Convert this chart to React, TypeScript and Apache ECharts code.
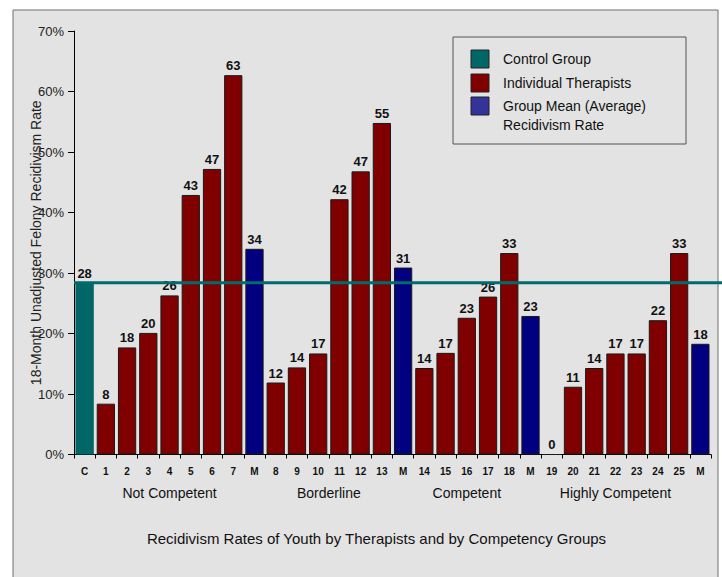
import React, { useEffect, useRef } from "react";
import * as echarts from "echarts";

const categories = [
  "C", "1", "2", "3", "4", "5", "6", "7", "M",
  "8", "9", "10", "11", "12", "13", "M",
  "14", "15", "16", "17", "18", "M",
  "19", "20", "21", "22", "23", "24", "25", "M",
];
const rates = [
  28.4, 8.4, 17.7, 20.1, 26.3, 42.9, 47.2, 62.7, 34.0,
  11.9, 14.4, 16.7, 42.2, 46.8, 54.8, 30.9,
  14.3, 16.8, 22.6, 26.1, 33.3, 22.9,
  0, 11.2, 14.3, 16.7, 16.7, 22.2, 33.3, 18.3,
];
const controlRate = 28.4;
const groupNames = ["Not Competent", "Borderline", "Competent", "Highly Competent"];
const legendNames = ["Control Group", "Individual Therapists", "Group Mean (Average)\nRecidivism Rate"];
const yTicks = [0, 10, 20, 30, 40, 50, 60, 70];
const yAxisTitle = "18-Month Unadjusted Felony Recidivism Rate";
const chartTitle = "Recidivism Rates of Youth by Therapists and by Competency Groups";

const FONT = "'Liberation Sans', Arial, Helvetica, sans-serif";
const COLORS = { control: "#006666", therapist: "#800000", mean: "#000080" };
const LEGEND_COLORS = ["#006666", "#800000", "#333399"];

function kindOf(cat: string) {
  if (cat === "C") return "control";
  if (cat === "M") return "mean";
  return "therapist";
}

export default function App() {
  const ref = useRef<HTMLDivElement>(null);
  useEffect(() => {
    if (!ref.current) return;
    const chart = echarts.init(ref.current, null, { renderer: "svg" });
    chart.setOption({
      animation: false,
      backgroundColor: "#ffffff",
      grid: { left: 74, right: 11, top: 31, bottom: 122.5, containLabel: false },
      xAxis: {
        type: "category",
        data: categories,
        boundaryGap: true,
        axisLine: { lineStyle: { color: "#000", width: 1 } },
        axisTick: { show: true, length: 4, lineStyle: { color: "#000" }, interval: 0 },
        axisLabel: {
          interval: 0,
          margin: 12,
          fontFamily: FONT,
          fontSize: 10,
          fontWeight: "bold",
          color: "#111",
        },
      },
      yAxis: {
        type: "value",
        min: yTicks[0],
        max: yTicks[yTicks.length - 1],
        interval: 10,
        name: yAxisTitle,
        nameLocation: "middle",
        nameGap: 30,
        nameMoveOverlap: false,
        nameTextStyle: { fontFamily: FONT, fontSize: 14, color: "#222" },
        axisLine: { show: true, lineStyle: { color: "#000", width: 1 } },
        axisTick: { show: true, length: 6, lineStyle: { color: "#000" } },
        axisLabel: {
          formatter: "{value}%",
          margin: 10,
          fontFamily: FONT,
          fontSize: 13,
          color: "#222",
        },
        splitLine: { show: false },
      },
      series: [
        {
          type: "bar",
          data: rates.map((v, i) => {
            const k = kindOf(categories[i]);
            return {
              value: v,
              itemStyle: {
                color: (COLORS as any)[k],
                borderColor: k === "control" ? "#006666" : "#1a1a1a",
                borderWidth: 1,
              },
            };
          }),
          barCategoryGap: "14%",
          label: {
            show: true,
            position: "top",
            distance: 3,
            formatter: (p: any) => String(Math.round(p.value)),
            fontFamily: FONT,
            fontSize: 13,
            fontWeight: "bold",
            color: "#111",
          },
        },
      ],
    });

    // derive positions from the chart's scales
    const c0 = chart.convertToPixel({ xAxisIndex: 0 }, 0) as number;
    const c1 = chart.convertToPixel({ xAxisIndex: 0 }, 1) as number;
    const band = c1 - c0;
    const leftX = c0 - band / 2;
    const lineY = chart.convertToPixel({ yAxisIndex: 0 }, controlRate) as number;
    const y0 = chart.convertToPixel({ yAxisIndex: 0 }, yTicks[0]) as number;
    const yTop = chart.convertToPixel({ yAxisIndex: 0 }, yTicks[yTicks.length - 1]) as number;

    // group spans: runs of therapists between markers
    const spans: [number, number][] = [];
    let start = -1;
    categories.forEach((c, i) => {
      const k = kindOf(c);
      if (k === "therapist") {
        if (start < 0) start = i;
      } else if (start >= 0) {
        spans.push([start, i - 1]);
        start = -1;
      }
    });
    if (start >= 0) spans.push([start, categories.length - 1]);

    const groupTexts = spans.map((s, gi) => {
      const a = chart.convertToPixel({ xAxisIndex: 0 }, s[0]) as number;
      const b = chart.convertToPixel({ xAxisIndex: 0 }, s[1]) as number;
      return {
        type: "text",
        x: (a + b) / 2,
        y: 493,
        z: 10,
        style: {
          text: groupNames[gi],
          fontFamily: FONT,
          fontSize: 14,
          fill: "#111",
          align: "center",
          verticalAlign: "middle",
        },
      };
    });

    const legendItems: any[] = [];
    const itemY = [50, 74, 97];
    legendNames.forEach((name, i) => {
      legendItems.push({
        type: "rect",
        z: 11,
        shape: { x: 471, y: itemY[i], width: 18, height: 18 },
        style: { fill: LEGEND_COLORS[i], stroke: "#222", lineWidth: 1 },
      });
      legendItems.push({
        type: "text",
        z: 11,
        x: 503,
        y: itemY[i] - 0.5,
        style: {
          text: name,
          fontFamily: FONT,
          fontSize: 14,
          lineHeight: 19,
          fill: "#111",
          align: "left",
          verticalAlign: "top",
        },
      });
    });

    chart.setOption({
      yAxis: { name: "" },
      graphic: [
        {
          type: "rect",
          z: -10,
          silent: true,
          shape: { x: 13, y: 10, width: 705, height: 572 },
          style: { fill: "#e3e3e3", stroke: "#6e6e6e", lineWidth: 1 },
        },
        {
          type: "text",
          z: 10,
          x: 36,
          y: (y0 + yTop) / 2,
          rotation: Math.PI / 2,
          style: {
            text: yAxisTitle,
            fontFamily: FONT,
            fontSize: 14,
            fill: "#222",
            align: "center",
            verticalAlign: "middle",
          },
        },
        {
          type: "line",
          z: 100,
          shape: { x1: leftX, y1: lineY, x2: 722, y2: lineY },
          style: { stroke: "#006b6b", lineWidth: 3 },
        },
        ...groupTexts,
        {
          type: "text",
          x: 376.5,
          y: 538,
          z: 10,
          style: {
            text: chartTitle,
            fontFamily: FONT,
            fontSize: 15,
            fill: "#111",
            align: "center",
            verticalAlign: "middle",
          },
        },
        {
          type: "rect",
          z: 10,
          shape: { x: 453, y: 37, width: 233, height: 107 },
          style: { fill: "#e3e3e3", stroke: "#555", lineWidth: 1 },
        },
        ...legendItems,
      ],
    });

    return () => chart.dispose();
  }, []);
  return (
    <div
      ref={ref}
      style={{ position: "fixed", left: 0, top: 0, width: 722, height: 577 }}
    />
  );
}
